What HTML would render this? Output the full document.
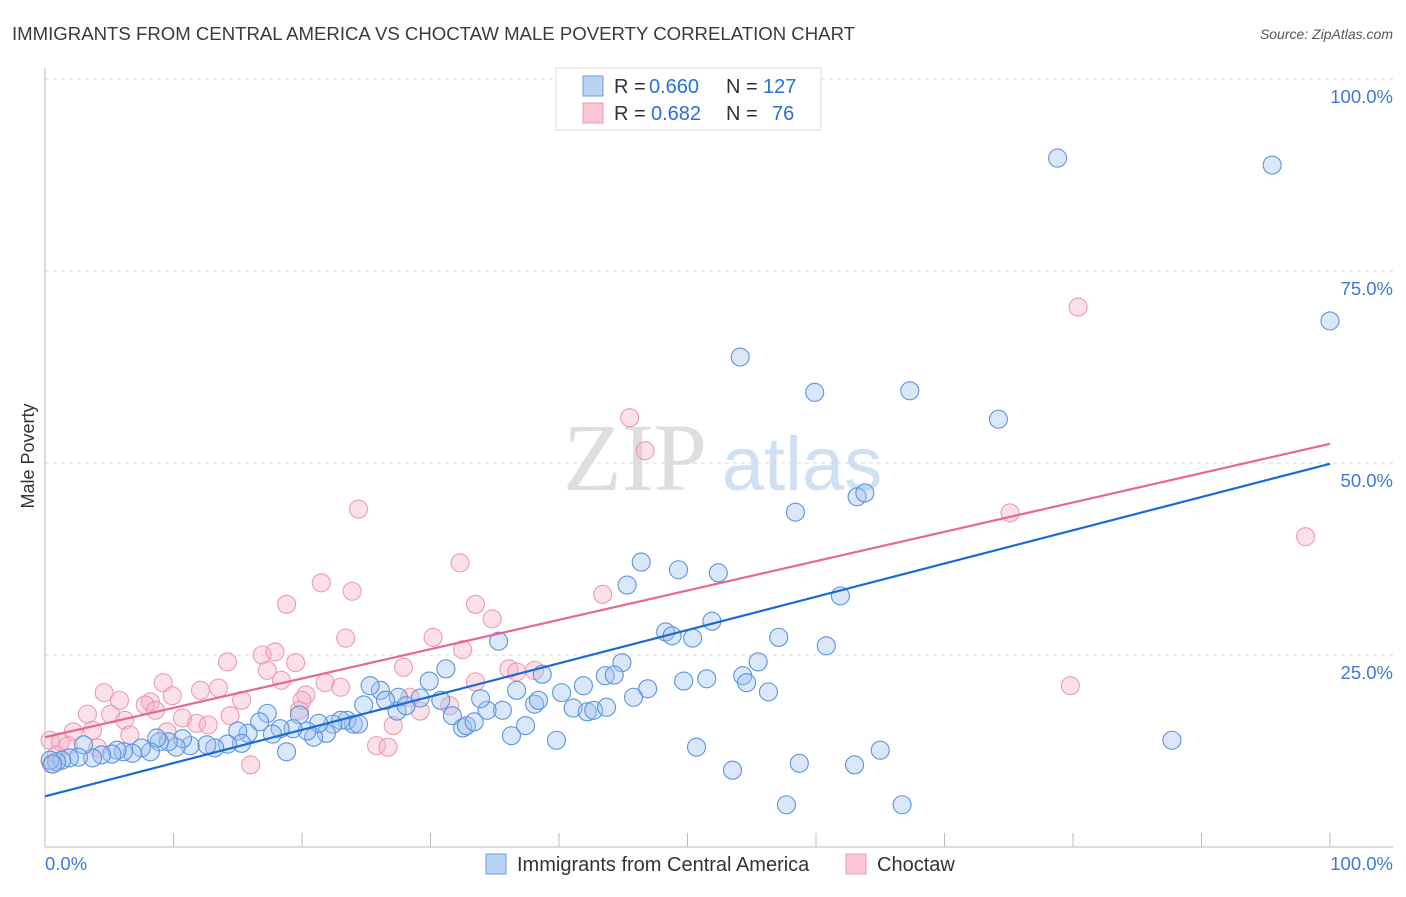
<!DOCTYPE html>
<html><head><meta charset="utf-8"><style>
body{margin:0;background:#fff;font-family:"Liberation Sans",sans-serif}
</style></head><body>
<svg id="chart" width="1406" height="892" xmlns="http://www.w3.org/2000/svg" font-family="Liberation Sans, sans-serif">
<text x="12" y="40" font-size="18.6" fill="#3a3a3a">IMMIGRANTS FROM CENTRAL AMERICA VS CHOCTAW MALE POVERTY CORRELATION CHART</text>
<text x="1393" y="39" font-size="14" font-style="italic" fill="#555" text-anchor="end">Source: ZipAtlas.com</text>
<g>
<text x="635" y="490" font-size="96" font-family="Liberation Serif, serif" fill="#dedede" text-anchor="middle">ZIP</text>
<text x="802" y="490" font-size="76" fill="#cfe0f3" text-anchor="middle">atlas</text>
</g>
<g id="grid"></g>
<g id="axes"></g>
<g id="marks"></g>
<g id="lines"></g>
<text x="34" y="456" font-size="18" fill="#333" text-anchor="middle" transform="rotate(-90 34 456)">Male Poverty</text>
<g font-size="20">
<rect x="556" y="68" width="265" height="62" fill="#fff" stroke="#ddd"/>
<rect x="583" y="76" width="20" height="20" fill="#b9d3f5" stroke="#6a9ee0"/>
<rect x="583" y="103" width="20" height="20" fill="#f8c6d5" stroke="#ee9ab5"/>
<text x="614" y="93" fill="#333">R =</text>
<text x="649" y="93" fill="#2a6fd6">0.660</text>
<text x="726" y="93" fill="#333">N =</text>
<text x="763" y="93" fill="#2a6fd6">127</text>
<text x="614" y="120" fill="#333">R =</text>
<text x="651" y="120" fill="#2a6fd6">0.682</text>
<text x="726" y="120" fill="#333">N =</text>
<text x="772" y="120" fill="#2a6fd6">76</text>
</g>
<g>
<rect x="486" y="854" width="20" height="20" fill="#b9d3f5" stroke="#6a9ee0"/>
<text x="517" y="871" font-size="20" fill="#333">Immigrants from Central America</text>
<rect x="846" y="854" width="20" height="20" fill="#f8c6d5" stroke="#ee9ab5"/>
<text x="877" y="871" font-size="20" fill="#333">Choctaw</text>
</g>
</svg>
<script>
const blueX=[78.8,95.5,100,54.1,59.9,67.3,74.2,63.2,63.8,58.4,46.4,49.3,52.4,45.3,61.9,35.3,48.3,48.8,50.4,51.9,57.1,60.8,55.5,54.3,54.6,56.3,51.5,49.7,46.9,45.8,44.9,43.6,44.3,41.9,40.2,41.1,42.2,42.7,43.7,38.7,36.7,38.1,38.4,35.6,34.4,33.9,36.3,37.4,39.8,31.2,29.9,29.2,30.8,31.7,32.5,32.8,33.4,27.5,27.4,28.1,26.1,25.3,26.5,24.8,24.0,23.5,24.4,23.0,22.4,21.9,20.9,21.3,20.4,19.8,19.3,18.3,17.7,17.3,16.7,18.8,15.8,15.0,15.3,14.2,13.2,12.6,11.3,10.7,10.2,9.6,8.9,8.7,8.2,7.5,6.8,6.1,5.6,5.2,4.4,3.7,3.0,2.6,1.9,1.3,0.9,0.4,0.6,50.7,53.5,58.7,63.0,65.0,57.7,66.7,87.7];
const blueY=[89.7,88.8,68.5,63.8,59.2,59.4,55.7,45.6,46.1,43.6,37.1,36.1,35.7,34.1,32.7,26.8,28.0,27.5,27.2,29.4,27.3,26.2,24.1,22.3,21.4,20.2,21.9,21.6,20.6,19.5,24.0,22.3,22.4,21.0,20.1,18.1,17.6,17.8,18.2,22.5,20.4,18.6,19.1,17.8,17.8,19.3,14.5,15.8,13.9,23.2,21.6,19.4,19.1,17.1,15.5,15.8,16.3,19.5,17.7,18.4,20.4,21.0,19.1,18.5,16.0,16.5,16.0,16.5,16.0,14.8,14.3,16.1,15.1,17.2,15.4,15.4,14.7,17.4,16.3,12.4,14.8,15.1,13.5,13.4,12.9,13.3,13.2,14.1,13.0,13.7,13.7,14.2,12.4,12.9,12.2,12.4,12.6,12.1,12.0,11.6,13.3,11.7,11.6,11.3,11.1,11.3,10.8,13.0,10.0,10.9,10.7,12.6,5.5,5.5,13.9];
const pinkX=[80.4,45.5,46.7,75.1,98.1,24.4,32.3,21.5,23.9,18.8,33.5,43.4,34.8,23.4,30.2,16.9,17.9,14.2,17.3,19.5,27.9,32.5,36.1,36.7,38.1,33.5,21.8,23.0,18.4,9.2,13.5,9.9,12.1,4.6,5.8,8.2,7.8,15.3,20.3,20.0,28.4,31.5,29.2,8.6,5.1,3.3,14.4,6.2,10.7,11.8,12.7,3.7,2.2,19.8,27.1,6.6,9.5,0.4,1.2,1.8,0.9,4.1,25.8,26.7,16.0,79.8,0.5];
const pinkY=[70.3,55.9,51.6,43.5,40.4,44.0,37.0,34.4,33.3,31.6,31.6,32.9,29.7,27.2,27.3,25.0,25.4,24.1,23.0,24.0,23.4,25.7,23.2,22.8,23.0,21.5,21.4,20.8,21.7,21.4,20.7,19.7,20.4,20.1,19.1,18.9,18.5,19.1,19.8,19.1,19.5,18.4,17.7,17.8,17.3,17.3,17.1,16.5,16.8,16.1,15.9,15.2,15.0,17.8,15.8,14.6,15.0,13.9,13.7,13.2,12.0,12.9,13.2,13.0,10.7,21.0,10.8];
const trendBlue=[6.6,49.9];
const trendPink=[14.3,52.5];
const yTicks=[25,50,75,100];
const yTickLabels=["25.0%","50.0%","75.0%","100.0%"];
const NS="http://www.w3.org/2000/svg";
const X0=45,X1=1330,Y0=847,Y1=79;
const sx=v=>X0+(X1-X0)*v/100;
const sy=v=>Y0-(Y0-Y1)*v/100;
function mk(tag,attrs,parent){const e=document.createElementNS(NS,tag);for(const k in attrs)e.setAttribute(k,attrs[k]);document.getElementById(parent).appendChild(e);return e;}
yTicks.forEach((t,i)=>{
 const l=mk('line',{x1:45,x2:1393,y1:sy(t),y2:sy(t),stroke:'#d8d8d8','stroke-dasharray':'4,4'},'grid');
 
 
 const tx=mk('text',{x:1393,y:sy(t)+24,'font-size':18.5,fill:'#3d7ad8','text-anchor':'end'},'grid');
 tx.textContent=yTickLabels[i];
 
 
});
const ya=mk('line',{x1:45,x2:45,y1:68,y2:847,stroke:'#bbb'},'axes');


const xa=mk('line',{x1:45,x2:1393,y1:847,y2:847,stroke:'#bbb'},'axes');


for(let i=0;i<=10;i++){
 const t=mk('line',{x1:sx(i*10),x2:sx(i*10),y1:833,y2:847,stroke:'#bbb'},'axes');
 
 
}
const xl0=mk('text',{x:45,y:870,'font-size':18.5,fill:'#3d7ad8'},'axes');xl0.textContent='0.0%';


const xl1=mk('text',{x:1393,y:870,'font-size':18.5,fill:'#3d7ad8','text-anchor':'end'},'axes');xl1.textContent='100.0%';


pinkX.forEach((x,i)=>{
 const c=mk('circle',{cx:sx(x),cy:sy(pinkY[i]),r:9,fill:'rgba(246,178,198,0.4)',stroke:'#ee9ab4','stroke-width':1.1},'marks');
 
 
});
blueX.forEach((x,i)=>{
 const c=mk('circle',{cx:sx(x),cy:sy(blueY[i]),r:9,fill:'rgba(160,196,240,0.4)',stroke:'#5b93e0','stroke-width':1.1},'marks');
 
 
});
const tp=mk('line',{x1:sx(0),y1:sy(trendPink[0]),x2:sx(100),y2:sy(trendPink[1]),stroke:'#e8668f','stroke-width':2.2},'lines');


const tb=mk('line',{x1:sx(0),y1:sy(trendBlue[0]),x2:sx(100),y2:sy(trendBlue[1]),stroke:'#1a6ad6','stroke-width':2.2},'lines');


</script>
</body></html>
